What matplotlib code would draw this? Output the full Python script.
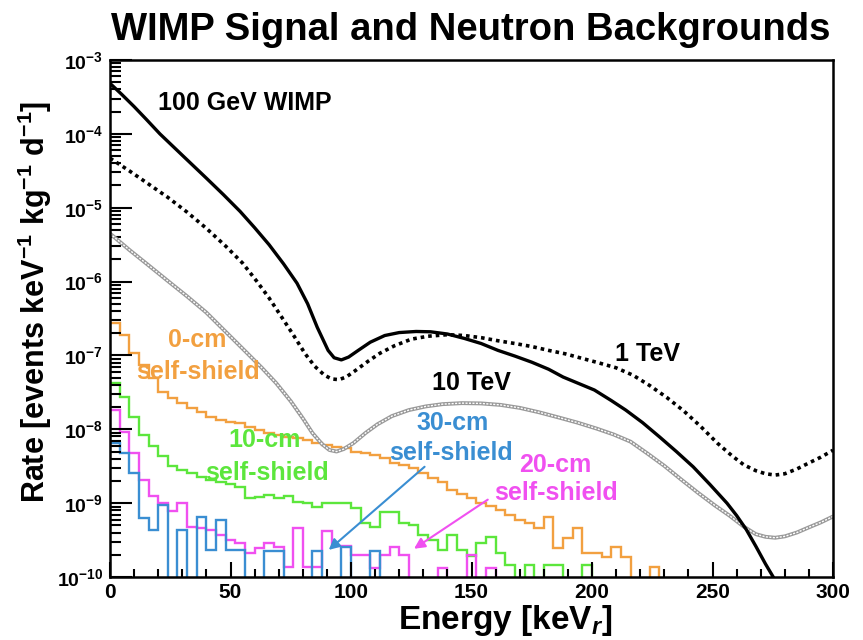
import numpy as np
import matplotlib
matplotlib.use("Agg")
import matplotlib.pyplot as plt
from matplotlib.ticker import LogLocator, MultipleLocator, NullFormatter

plt.rcParams['font.family'] = ['Liberation Sans', 'DejaVu Sans']
plt.rcParams['font.weight'] = 'bold'
plt.rcParams['mathtext.fontset'] = 'custom'
plt.rcParams['mathtext.rm'] = 'Liberation Sans:bold'
plt.rcParams['mathtext.bf'] = 'Liberation Sans:bold'
plt.rcParams['mathtext.it'] = 'Liberation Sans:bold:italic'

# --- WIMP recoil spectra (energy keV, rate events/keV/kg/d) ---
e_100gev = [0, 5, 10, 15, 20.7, 30, 40, 47, 54, 60, 66, 72, 77.6, 82, 86, 90.5,
            93, 96, 99, 103, 108, 114, 120, 127, 133, 140, 147, 154, 161, 168,
            175, 182, 188, 195, 201, 208, 214, 221, 228, 235, 242, 249, 256,
            260, 264, 268, 272, 275.2, 278]
r_100gev = [4.83e-4, 3.39e-4, 2.34e-4, 1.58e-4, 1.0e-4, 5.13e-5, 2.51e-5, 1.51e-5,
            8.9e-6, 5.37e-6, 3.16e-6, 1.74e-6, 9.5e-7, 5.01e-7, 2.4e-7, 1.17e-7,
            9.3e-8, 8.7e-8, 9.5e-8, 1.17e-7, 1.51e-7, 1.86e-7, 2.04e-7, 2.11e-7,
            2.09e-7, 1.95e-7, 1.70e-7, 1.45e-7, 1.17e-7, 9.8e-8, 8.1e-8, 6.5e-8,
            5.1e-8, 4.1e-8, 3.4e-8, 2.45e-8, 1.82e-8, 1.23e-8, 7.9e-9, 5.0e-9,
            3.1e-9, 1.78e-9, 1.0e-9, 6.8e-10, 4.4e-10, 2.6e-10, 1.5e-10, 1.0e-10,
            4e-11]

e_1tev = [0, 8, 16, 24, 32, 40, 48, 55, 61, 66, 71, 76, 81, 85, 89, 92, 95, 98,
          102, 107, 112, 118, 125, 132, 140, 147, 154, 161, 168, 175, 182, 189,
          196, 203, 210, 217, 224, 231, 238, 245, 252, 258, 263, 268, 272, 276,
          280, 285, 290, 295, 300]
r_1tev = [4.68e-5, 3.16e-5, 2.09e-5, 1.38e-5, 8.7e-6, 5.25e-6, 3.02e-6, 1.78e-6,
          1.0e-6, 6.0e-7, 3.39e-7, 1.91e-7, 1.05e-7, 7.1e-8, 5.4e-8, 4.8e-8, 4.7e-8,
          5.1e-8, 6.3e-8, 8.3e-8, 1.07e-7, 1.35e-7, 1.66e-7, 1.82e-7, 1.91e-7,
          1.86e-7, 1.74e-7, 1.58e-7, 1.45e-7, 1.32e-7, 1.17e-7, 1.05e-7, 9.1e-8,
          7.9e-8, 6.8e-8, 5.4e-8, 3.9e-8, 2.7e-8, 1.78e-8, 1.1e-8, 6.5e-9, 4.4e-9,
          3.3e-9, 2.75e-9, 2.5e-9, 2.4e-9, 2.5e-9, 2.9e-9, 3.5e-9, 4.2e-9, 5.2e-9]

e_10tev = [0, 8, 16, 24, 32, 40, 48, 56, 63, 69, 75, 80, 84, 88, 91, 94, 97, 101,
           106, 111, 117, 124, 131, 138, 146, 154, 162, 170, 178, 186, 194, 202,
           209, 216, 223, 230, 237, 244, 251, 257, 263, 268, 272, 276, 280, 285,
           290, 295, 300]
r_10tev = [4.47e-6, 2.69e-6, 1.66e-6, 1.02e-6, 6.3e-7, 3.8e-7, 2.09e-7, 1.15e-7,
           6.8e-8, 4.2e-8, 2.4e-8, 1.41e-8, 8.9e-9, 6.3e-9, 5.25e-9, 5.0e-9, 5.4e-9,
           6.5e-9, 8.9e-9, 1.17e-8, 1.51e-8, 1.82e-8, 2.04e-8, 2.19e-8, 2.26e-8,
           2.24e-8, 2.14e-8, 1.95e-8, 1.70e-8, 1.45e-8, 1.23e-8, 1.02e-8, 8.5e-9,
           6.8e-9, 4.7e-9, 3.2e-9, 2.09e-9, 1.38e-9, 9.3e-10, 6.8e-10, 4.8e-10,
           3.8e-10, 3.5e-10, 3.4e-10, 3.55e-10, 4.0e-10, 4.7e-10, 5.5e-10, 6.6e-10]

# --- neutron background histograms, 4 keV bins starting at 0 ---
bin_width = 4
bg_0cm = [2.75e-7, 1.89e-7, 1.08e-7, 7.4e-8, 4.95e-8, 3.2e-8, 2.65e-8, 2.27e-8, 1.94e-8, 1.71e-8,
          1.47e-8, 1.34e-8, 1.26e-8, 1.22e-8, 1.07e-8, 9.8e-9, 8.9e-9, 8.4e-9, 7.9e-9, 7.6e-9,
          7.2e-9, 6.5e-9, 6.1e-9, 5.75e-9, 5.6e-9, 4.9e-9, 4.8e-9, 4.5e-9, 4.1e-9, 3.5e-9,
          3.3e-9, 3.0e-9, 2.56e-9, 2.19e-9, 1.93e-9, 1.51e-9, 1.33e-9, 1.17e-9, 1.0e-9, 9.1e-10,
          8.1e-10, 6.9e-10, 5.9e-10, 5.4e-10, 4.6e-10, 6.5e-10, 2.5e-10, 3.4e-10, 4.6e-10, 2.1e-10,
          2.1e-10, 1.87e-10, 2.55e-10, 1.87e-10, 0, 0, 1.37e-10, 0]
bg_10cm = [4.24e-8, 2.74e-8, 1.47e-8, 8.4e-9, 5.9e-9, 4.36e-9, 3.2e-9, 2.8e-9, 2.56e-9, 2.26e-9,
           2.06e-9, 1.93e-9, 1.82e-9, 1.66e-9, 1.18e-9, 1.2e-9, 1.29e-9, 1.18e-9, 1.24e-9, 1.04e-9,
           1.0e-9, 8.9e-10, 1.0e-9, 1.02e-9, 1.0e-9, 8.7e-10, 5.4e-10, 4.75e-10, 7.6e-10, 7.6e-10,
           5.4e-10, 5.1e-10, 3.7e-10, 3.17e-10, 2.32e-10, 3.7e-10, 2.32e-10, 1.93e-10, 2.88e-10, 3.48e-10,
           2.1e-10, 1.46e-10, 0, 1.46e-10, 0, 1.46e-10, 1.46e-10, 0, 0, 1.46e-10, 0]
bg_20cm = [1.82e-8, 9.2e-9, 4.8e-9, 2.06e-9, 1.25e-9, 1.0e-9, 7.9e-10, 1.0e-9, 4.7e-10, 4.6e-10,
           4.3e-10, 3.7e-10, 3.2e-10, 2.9e-10, 2.1e-10, 2.5e-10, 2.9e-10, 2.55e-10, 1.37e-10, 4.6e-10,
           1.37e-10, 1.37e-10, 4.2e-10, 2.6e-10, 2.6e-10, 2.0e-10, 2.0e-10, 1.32e-10, 2.0e-10, 2.55e-10,
           2.0e-10, 0, 0, 0, 1.32e-10, 0, 0, 2.0e-10, 0, 1.32e-10, 0]
bg_30cm = [6.5e-9, 4.8e-9, 2.56e-9, 6.3e-10, 4.3e-10, 9.4e-10, 0, 4.3e-10, 0, 6.5e-10,
           2.3e-10, 5.9e-10, 2.3e-10, 2.3e-10, 0, 0, 2.25e-10, 2.25e-10, 0, 0,
           0, 2.25e-10, 0, 0, 2.55e-10, 0, 0, 2.25e-10, 0]

c_orange = '#f2a040'
c_green = '#5ce63c'
c_magenta = '#f050f0'
c_blue = '#3a8ed2'

fig = plt.figure(figsize=(8.63, 6.4), dpi=100)
ax = fig.add_axes([110 / 863, 1 - 577 / 640, 723 / 863, 517 / 640])
ax.set_yscale('log')
ax.set_xlim(0, 300)
ax.set_ylim(1e-10, 1e-3)


def draw_hist(vals, color):
    vals = np.asarray(vals, dtype=float)
    edges = np.arange(len(vals) + 1) * bin_width
    # empty bins drop below the axis floor, like ROOT does
    ax.stairs(np.where(vals > 0, vals, 1e-14), edges, baseline=None,
              color=color, lw=1.7)


draw_hist(bg_0cm, c_orange)
draw_hist(bg_10cm, c_green)
draw_hist(bg_20cm, c_magenta)
draw_hist(bg_30cm, c_blue)

# WIMP curves; the 10 TeV one gets a hatched grey look
ax.plot(e_10tev, r_10tev, color='#999999', lw=2.8, solid_capstyle='butt')
ax.plot(e_10tev, r_10tev, color='white', lw=1.0, ls=(0, (1.5, 1.0)))
ax.plot(e_1tev, r_1tev, color='black', lw=2.6, ls=(0, (1, 1.1)))
ax.plot(e_100gev, r_100gev, color='black', lw=2.4)

# labels on the curves
ax.text(20, 2.6e-4, '100 GeV WIMP', fontsize=18, va='center', ha='left')
ax.text(209.5, 1.03e-7, '1 TeV', fontsize=18, va='center', ha='left')
ax.text(133.6, 4.2e-8, '10 TeV', fontsize=18, va='center', ha='left')

ax.text(36, 1.62e-7, '0-cm', color=c_orange, fontsize=18, ha='center', va='center')
ax.text(36.5, 5.97e-8, 'self-shield', color=c_orange, fontsize=18, ha='center', va='center')
ax.text(64, 7.2e-9, '10-cm', color=c_green, fontsize=18, ha='center', va='center')
ax.text(65, 2.57e-9, 'self-shield', color=c_green, fontsize=18, ha='center', va='center')
ax.text(142.3, 1.22e-8, '30-cm', color=c_blue, fontsize=18, ha='center', va='center')
ax.text(141.5, 4.8e-9, 'self-shield', color=c_blue, fontsize=18, ha='center', va='center')
ax.text(184.6, 3.29e-9, '20-cm', color=c_magenta, fontsize=18, ha='center', va='center')
ax.text(185, 1.37e-9, 'self-shield', color=c_magenta, fontsize=18, ha='center', va='center')

ax.annotate('', xy=(89.9, 2.2e-10), xytext=(131.4, 3.29e-9),
            arrowprops=dict(arrowstyle='-|>', color=c_blue, lw=1.5, mutation_scale=16))
ax.annotate('', xy=(125.2, 2.3e-10), xytext=(157.7, 1.17e-9),
            arrowprops=dict(arrowstyle='-|>', color=c_magenta, lw=1.5, mutation_scale=16))

# ROOT-style frame and ticks
for sp in ax.spines.values():
    sp.set_linewidth(1.8)
ax.xaxis.set_major_locator(MultipleLocator(50))
ax.xaxis.set_minor_locator(MultipleLocator(10))
ax.yaxis.set_major_locator(LogLocator(base=10, numticks=20))
ax.yaxis.set_minor_locator(LogLocator(base=10, subs=np.arange(2, 10), numticks=20))
ax.yaxis.set_minor_formatter(NullFormatter())
ax.tick_params(axis='both', which='both', direction='in', top=False, right=False, width=1.5)
ax.tick_params(axis='x', which='major', length=11, labelsize=15, pad=4)
ax.tick_params(axis='x', which='minor', length=6)
ax.tick_params(axis='y', which='major', length=16, labelsize=14, pad=5)
ax.tick_params(axis='y', which='minor', length=8)

fig.text(0.546, 0.953, 'WIMP Signal and Neutron Backgrounds', fontsize=27.5,
         ha='center', va='center')
fig.text(0.585, 0.030, 'Energy [keV$_r$]', fontsize=24, ha='center', va='center')
fig.text(0.040, 0.528, 'Rate [events keV$^{-1}$ kg$^{-1}$ d$^{-1}$]', fontsize=22,
         ha='center', va='center', rotation=90)

fig.savefig('out.png', dpi=100)
